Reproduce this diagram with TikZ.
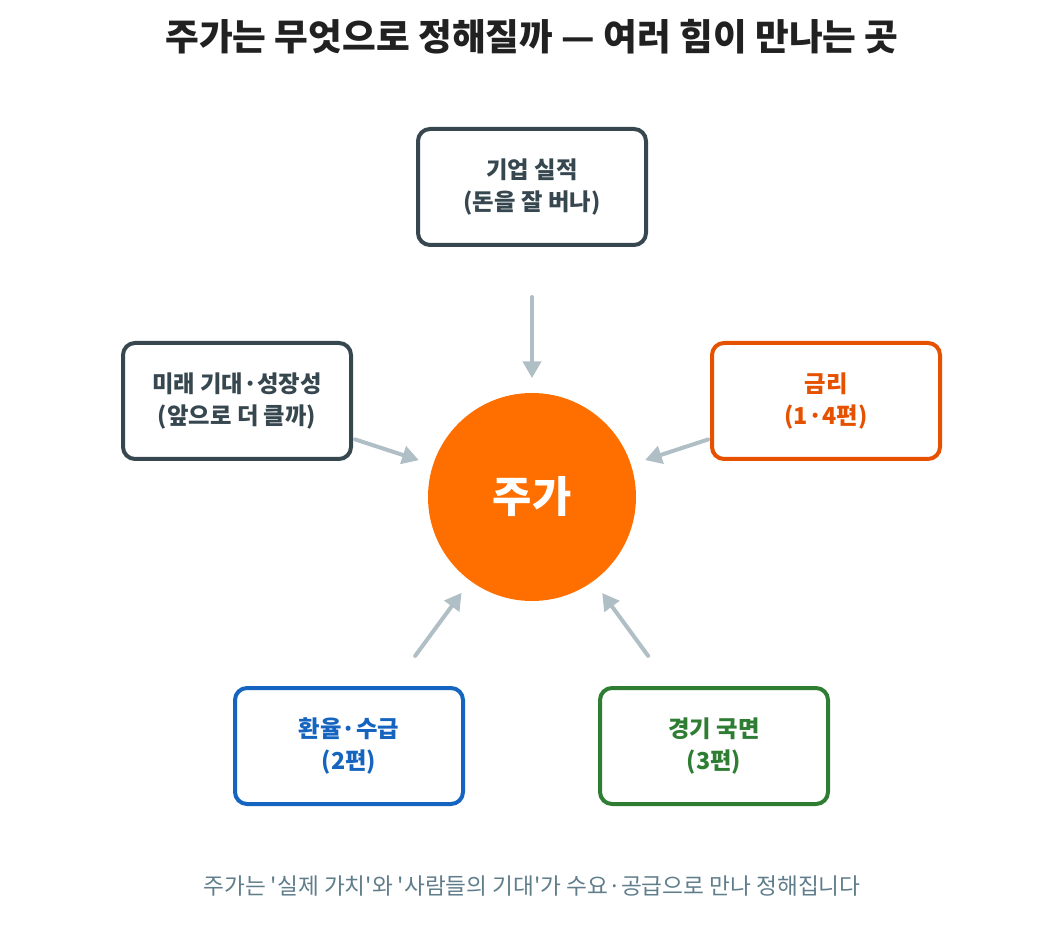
\documentclass[tikz,border=0pt]{standalone}
\usepackage{fontspec}
\setmainfont{Noto Sans CJK KR}
\newfontfamily\capfont{Noto Sans CJK KR}[Ligatures=TeXOff]
\usetikzlibrary{arrows.meta}
\definecolor{slate}{HTML}{37474F}
\definecolor{rateorange}{HTML}{E65100}
\definecolor{fxblue}{HTML}{1565C0}
\definecolor{ecogreen}{HTML}{2E7D32}
\definecolor{stockorange}{HTML}{FF6F00}
\definecolor{arrowgray}{HTML}{B0BEC5}
\definecolor{titlecol}{HTML}{212121}
\definecolor{captioncol}{HTML}{607D8B}
\begin{document}
\begin{tikzpicture}[x=0.75pt,y=-0.75pt,
  box/.style={draw, line width=3pt, rounded corners=9pt, fill=white,
    minimum width=171pt, minimum height=87pt, align=center, inner sep=0pt,
    font=\fontsize{17.5}{24.5}\selectfont\bfseries},
  arr/.style={draw=arrowgray, line width=3pt, line cap=round,
    -{Triangle[length=12.5pt,width=13.5pt]}, shorten >=11pt}]
\useasboundingbox (0,0) rectangle (1064,944);
\node[font=\fontsize{27.5}{32}\selectfont\bfseries, text=titlecol] (title) at (532,37) {주가는 무엇으로 정해질까 — 여러 힘이 만나는 곳};
\node[circle, fill=stockorange, minimum size=156pt, inner sep=0pt, text=white,
  font=\fontsize{32}{38}\selectfont\bfseries] (c) at (532,497) {주가};
\node[box, draw=slate, text=slate] (b1) at (532,187) {기업 실적\\(돈을 잘 버나)};
\node[box, draw=slate, text=slate] (b2) at (237,401) {미래 기대·성장성\\(앞으로 더 클까)};
\node[box, draw=rateorange, text=rateorange] (b3) at (826,401) {금리\\(1·4편)};
\node[box, draw=fxblue, text=fxblue] (b4) at (349,746) {환율·수급\\(2편)};
\node[box, draw=ecogreen, text=ecogreen] (b5) at (714,746) {경기 국면\\(3편)};
\draw[arr, shorten <=37.5pt] (b1) -- (c);
\draw[arr, shorten <=1.5pt] (b2) -- (c);
\draw[arr, shorten <=1.5pt] (b3) -- (c);
\draw[arr, shorten <=28pt] (b4) -- (c);
\draw[arr, shorten <=28pt] (b5) -- (c);
\node[font=\capfont\fontsize{17}{20}\selectfont, text=captioncol] (cap) at (532,886) {주가는 '실제 가치'와 '사람들의 기대'가 수요·공급으로 만나 정해집니다};
\end{tikzpicture}
\end{document}
